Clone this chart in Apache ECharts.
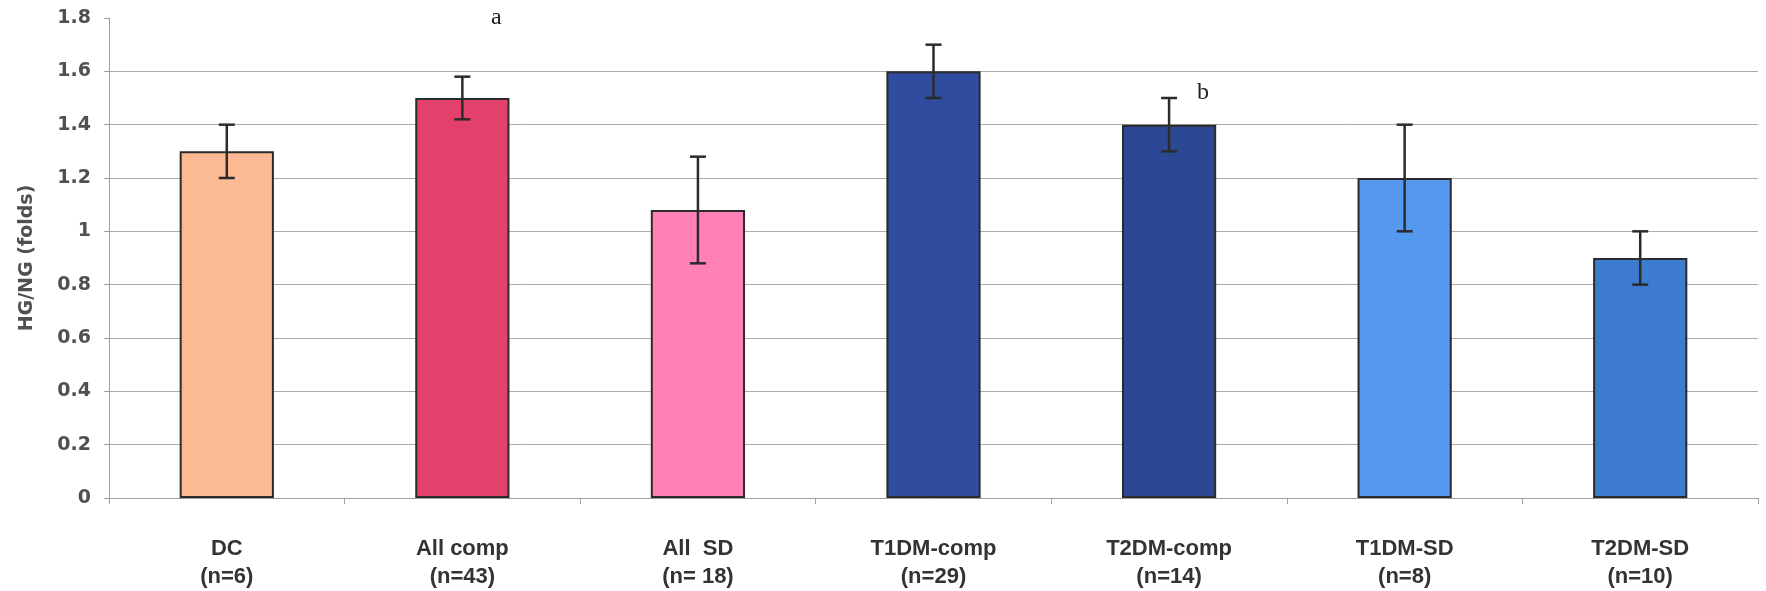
<!DOCTYPE html>
<html>
<head>
<meta charset="utf-8">
<script src="https://cdn.jsdelivr.net/npm/echarts@6/dist/echarts.min.js"></script>
<style>
html,body{margin:0;padding:0;background:#fff;}
#chart{width:1766px;height:591px;}
</style>
</head>
<body>
<div id="chart"></div>
<script>
// ---- data ----
const categories = ['DC\n(n=6)', 'All comp\n(n=43)', 'All  SD\n(n= 18)', 'T1DM-comp\n(n=29)', 'T2DM-comp\n(n=14)', 'T1DM-SD\n(n=8)', 'T2DM-SD\n(n=10)'];
const values = [1.3, 1.5, 1.08, 1.6, 1.4, 1.2, 0.9];
const errors = [0.1, 0.08, 0.2, 0.1, 0.1, 0.2, 0.1];
const barColors = ['#FCBA92', '#E2416B', '#FF80B6', '#2F4C9F', '#2C4793', '#5598F0', '#3D7BD0'];
const yTicks = [0, 0.2, 0.4, 0.6, 0.8, 1, 1.2, 1.4, 1.6, 1.8];
const annotations = [
  { category: 1, value: 1.8, text: 'a' },
  { category: 4, value: 1.52, text: 'b' }
];

const chart = echarts.init(document.getElementById('chart'));

const splitColors = yTicks.map((t, i) => i === yTicks.length - 1 ? 'rgba(0,0,0,0)' : '#ababab');
const wideFont = '"DejaVu Sans", Verdana, sans-serif';
const sansFont = '"Liberation Sans", Arial, Helvetica, sans-serif';

const option = {
  backgroundColor: '#ffffff',
  animation: false,
  grid: { left: 109, right: 8, top: 18, bottom: 90, containLabel: false },
  xAxis: {
    type: 'category',
    data: categories,
    axisLine: { show: true, lineStyle: { color: '#a0a0a0', width: 1 } },
    axisTick: { show: true, alignWithLabel: false, length: 6, lineStyle: { color: '#a0a0a0' } },
    axisLabel: {
      color: '#333333',
      fontFamily: sansFont,
      fontWeight: 'bold',
      fontSize: 22,
      lineHeight: 28,
      margin: 37,
      interval: 0
    }
  },
  yAxis: {
    type: 'value',
    min: 0,
    max: 1.8,
    interval: 0.2,
    name: 'HG/NG (folds)',
    nameLocation: 'middle',
    nameRotate: 90,
    nameGap: 72,
    nameTextStyle: {
      color: '#505050',
      fontFamily: wideFont,
      fontWeight: 'bold',
      fontSize: 19
    },
    axisLine: { show: true, lineStyle: { color: '#a0a0a0', width: 1 } },
    axisTick: { show: true, length: 5, lineStyle: { color: '#a0a0a0' } },
    axisLabel: {
      color: '#505050',
      fontFamily: wideFont,
      fontWeight: 'bold',
      fontSize: 19,
      margin: 18,
      formatter: v => String(Math.round(v * 10) / 10)
    },
    splitLine: { show: true, lineStyle: { color: splitColors, width: 1 } }
  },
  series: [
    {
      type: 'bar',
      barWidth: '40%',
      data: values.map((v, i) => ({
        value: v,
        itemStyle: { color: barColors[i], borderColor: '#2b2b2b', borderWidth: 2 }
      })),
      z: 2
    },
    {
      type: 'custom',
      z: 5,
      data: values.map((v, i) => [i, v - errors[i], v + errors[i]]),
      renderItem: (params, api) => {
        const x = api.value(0);
        const lo = api.coord([x, api.value(1)]);
        const hi = api.coord([x, api.value(2)]);
        const hw = 8;
        const st = { stroke: '#2b2b2b', lineWidth: 2.5 };
        return {
          type: 'group',
          children: [
            { type: 'line', shape: { x1: hi[0], y1: hi[1], x2: lo[0], y2: lo[1] }, style: st },
            { type: 'line', shape: { x1: hi[0] - hw, y1: hi[1], x2: hi[0] + hw, y2: hi[1] }, style: st },
            { type: 'line', shape: { x1: lo[0] - hw, y1: lo[1], x2: lo[0] + hw, y2: lo[1] }, style: st }
          ]
        };
      }
    },
    {
      type: 'custom',
      z: 6,
      data: annotations.map(a => [a.category, a.value, a.text]),
      renderItem: (params, api) => {
        const p = api.coord([api.value(0), api.value(1)]);
        const a = annotations[params.dataIndex];
        return {
          type: 'text',
          x: p[0] + 34,
          y: p[1],
          style: {
            text: a.text,
            fill: '#222',
            font: '24px "Liberation Serif", "Times New Roman", serif',
            align: 'center',
            verticalAlign: 'middle'
          }
        };
      }
    }
  ]
};
chart.setOption(option);
</script>
</body>
</html>
